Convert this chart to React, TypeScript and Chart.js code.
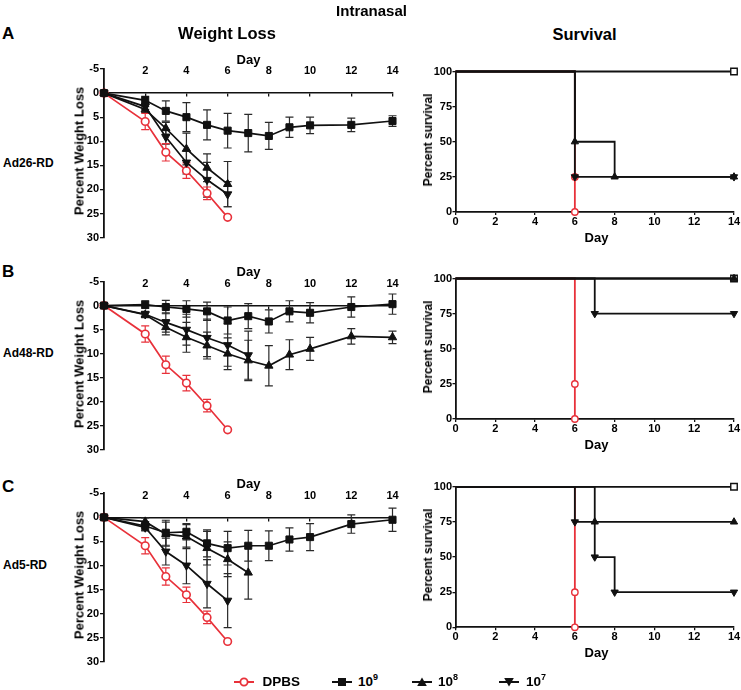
import React, { useEffect, useRef } from 'react';
import { Chart, registerables } from 'chart.js';
Chart.register(...registerables);

const FONT = "'Liberation Sans', Arial, Helvetica, sans-serif";
const RED = '#E8313A';
const BLACK = '#111111';

// ---------- Weight loss data (percent weight loss, days post infection) ----------
const dpbsDays = [0, 2, 3, 4, 5, 6];
const dpbsLoss = [0, 5.9, 12.3, 16.1, 20.8, 25.8];
const dpbsErr = [0, 1.7, 1.8, 1.6, 1.3, 0];

const fullDays = [0, 2, 3, 4, 5, 6, 7, 8, 9, 10, 12, 14];
const days6 = [0, 2, 3, 4, 5, 6];
const days7 = [0, 2, 3, 4, 5, 6, 7];

// Ad26-RD
const ad26E9 = [0, 1.5, 3.7, 5.0, 6.6, 7.8, 8.3, 8.9, 7.1, 6.7, 6.6, 5.8];
const ad26E9Err = [0, 0.8, 2.1, 3.0, 3.1, 3.6, 3.9, 2.8, 2.1, 1.7, 1.4, 1.1];
const ad26E8 = [0, 3.4, 7.3, 11.6, 15.5, 18.9];
const ad26E8Err = [0, 0.6, 1.2, 3.3, 2.9, 4.7];
const ad26E7 = [0, 2.8, 9.1, 14.4, 18.0, 21.0];
const ad26E7Err = [0, 0.6, 1.5, 2.4, 3.6, 2.6];

// Ad48-RD
const ad48E9 = [0, -0.2, 0.3, 0.7, 1.2, 3.1, 2.2, 3.3, 1.2, 1.5, 0.3, -0.3];
const ad48E9Err = [0, 0.8, 1.4, 1.7, 1.9, 2.8, 2.6, 2.4, 2.2, 2.1, 2.1, 2.1];
const ad48E8 = [0, 1.9, 4.5, 6.6, 8.3, 10.0, 11.4, 12.5, 10.2, 9.0, 6.4, 6.6];
const ad48E8Err = [0, 0.6, 1.6, 3.1, 2.8, 3.3, 4.2, 4.2, 3.1, 2.4, 1.6, 1.3];
const ad48E7 = [0, 1.8, 3.5, 5.0, 6.7, 8.2, 10.3];
const ad48E7Err = [0, 0.6, 2.0, 3.2, 3.9, 4.4, 5.0];

// Ad5-RD
const ad5E9 = [0, 1.8, 3.2, 3.0, 5.4, 6.4, 5.9, 5.9, 4.6, 4.1, 1.4, 0.5];
const ad5E9Err = [0, 0.9, 2.6, 1.7, 2.8, 3.5, 3.2, 3.1, 2.4, 2.8, 1.9, 2.4];
const ad5E8 = [0, 0.9, 3.5, 4.0, 6.4, 8.7, 11.5];
const ad5E8Err = [0, 0.8, 2.5, 2.5, 3.5, 3.6, 5.5];
const ad5E7 = [0, 2.1, 7.1, 10.0, 13.8, 17.3];
const ad5E7Err = [0, 0.7, 2.8, 3.8, 5.0, 5.6];

// ---------- Survival data (Kaplan-Meier steps) ----------
const survDpbsDays = [0, 6, 6];
const survDpbs = [100, 25, 0];

const ad26SurvE9Days = [0, 14];
const ad26SurvE9 = [100, 100];
const ad26SurvE8Days = [0, 6, 8, 14];
const ad26SurvE8 = [100, 50, 25, 25];
const ad26SurvE7Days = [0, 6, 14];
const ad26SurvE7 = [100, 25, 25];

const ad48SurvE9Days = [0, 14];
const ad48SurvE9 = [100, 100];
const ad48SurvE8Days = [0, 14];
const ad48SurvE8 = [100, 100];
const ad48SurvE7Days = [0, 7, 14];
const ad48SurvE7 = [100, 75, 75];

const ad5SurvE9Days = [0, 14];
const ad5SurvE9 = [100, 100];
const ad5SurvE8Days = [0, 7, 14];
const ad5SurvE8 = [100, 75, 75];
const ad5SurvE7Days = [0, 6, 7, 8, 14];
const ad5SurvE7 = [100, 75, 50, 25, 25];

// ---------- tick settings ----------
const weightTicksMin = -5;
const weightTicksMax = 30;
const weightTickStep = 5;
const dayMin = 0;
const dayMax = 14;
const dayStep = 2;
const survMin = 0;
const survMax = 100;
const survStep = 25;

const pts = (days: number[], vals: number[]) => days.map((d, i) => ({ x: d, y: vals[i] }));

const errorBarPlugin = {
  id: 'errorBars',
  beforeDatasetsDraw(chart: any) {
    const ctx = chart.ctx;
    const xs = chart.scales.x;
    const ys = chart.scales.y;
    chart.data.datasets.forEach((ds: any) => {
      if (!ds.errors) return;
      ctx.save();
      ctx.strokeStyle = ds.errorColor;
      ctx.lineWidth = 1.2;
      ds.data.forEach((p: any, j: number) => {
        const e = ds.errors[j];
        if (!e) return;
        const px = xs.getPixelForValue(p.x);
        const y1 = ys.getPixelForValue(p.y - e);
        const y2 = ys.getPixelForValue(p.y + e);
        ctx.beginPath();
        ctx.moveTo(px, y1);
        ctx.lineTo(px, y2);
        ctx.moveTo(px - 4, y1);
        ctx.lineTo(px + 4, y1);
        ctx.moveTo(px - 4, y2);
        ctx.lineTo(px + 4, y2);
        ctx.stroke();
      });
      ctx.restore();
    });
  },
};

type Kind = 'dpbs' | 'e9' | 'e8' | 'e7';

function weightSeries(kind: Kind, days: number[], vals: number[], errs: number[]) {
  const color = kind === 'dpbs' ? RED : BLACK;
  return {
    data: pts(days, vals),
    errors: errs,
    errorColor: kind === 'dpbs' ? RED : '#2a2a2a',
    xAxisID: 'x',
    yAxisID: 'y',
    borderColor: color,
    borderWidth: 1.7,
    pointStyle: kind === 'dpbs' ? 'circle' : kind === 'e9' ? 'rect' : 'triangle',
    rotation: kind === 'e7' ? 180 : 0,
    pointRadius: kind === 'dpbs' ? 3.8 : kind === 'e9' ? 5 : 4.8,
    pointBorderWidth: kind === 'dpbs' ? 1.6 : 1,
    pointBackgroundColor: kind === 'dpbs' ? '#ffffff' : BLACK,
    pointBorderColor: color,
    tension: 0,
    clip: false,
  };
}

function survSeries(kind: Kind, days: number[], vals: number[]) {
  const color = kind === 'dpbs' ? RED : BLACK;
  return {
    data: pts(days, vals),
    xAxisID: 'x',
    yAxisID: 'y',
    borderColor: color,
    borderWidth: 1.8,
    stepped: 'before',
    pointStyle: kind === 'dpbs' ? 'circle' : kind === 'e9' ? 'rect' : 'triangle',
    rotation: kind === 'e7' ? 180 : 0,
    pointRadius: days.map((_, i) => (i === 0 ? 0 : kind === 'dpbs' ? 3.2 : kind === 'e9' ? 4.6 : 4.2)),
    pointBorderWidth: kind === 'dpbs' || kind === 'e9' ? 1.4 : 1,
    pointBackgroundColor: kind === 'dpbs' || kind === 'e9' ? '#ffffff' : BLACK,
    pointBorderColor: color,
    clip: false,
  };
}

const tickFont = { family: FONT, size: 11, weight: 'bold' as const };

type Geo = { left: number; top: number; width: number; height: number; yW: number; xH: number; padR: number; padB: number; padT: number };

function weightGeo(areaTop: number, areaBottom: number): Geo {
  const left = 60;
  const areaLeft = 104;
  const areaRight = 392.5;
  const top = Math.floor(areaTop - 20);
  const width = Math.ceil(areaRight + 10 - left);
  const height = Math.ceil(areaBottom + 10 - top);
  return { left, top, width, height, yW: areaLeft - left, xH: 0, padR: left + width - areaRight, padB: top + height - areaBottom, padT: areaTop - top };
}

function survGeo(areaTop: number, areaBottom: number): Geo {
  const left = 415;
  const areaLeft = 455.5;
  const areaRight = 734;
  const top = Math.floor(areaTop - 10);
  const width = 741 - left;
  const height = Math.ceil(areaBottom + 20 - top);
  return { left, top, width, height, yW: areaLeft - left, xH: top + height - areaBottom, padR: left + width - areaRight, padB: 0, padT: areaTop - top };
}

function weightConfig(geo: Geo, datasets: any[]) {
  return {
    type: 'line',
    data: { datasets },
    options: {
      animation: false,
      responsive: false,
      layout: { padding: { left: 0, top: geo.padT, right: geo.padR, bottom: geo.padB } },
      plugins: { legend: { display: false }, tooltip: { enabled: false } },
      scales: {
        x: {
          type: 'linear',
          position: { y: weightTicksMin },
          min: dayMin,
          max: dayMax,
          ticks: {
            stepSize: dayStep,
            padding: 0,
            color: '#000',
            font: { family: FONT, size: 11, weight: 'bold', lineHeight: 0.42 },
            maxRotation: 0,
            callback: (v: number) => (v === 0 ? '' : String(v)),
          },
          grid: { display: false, drawTicks: false, tickLength: 0 },
          border: { display: false },
        },
        x2: {
          type: 'linear',
          axis: 'x',
          position: { y: 0 },
          min: dayMin,
          max: dayMax,
          ticks: { stepSize: dayStep, display: false },
          grid: { drawOnChartArea: false, drawTicks: true, tickLength: 3, color: BLACK, lineWidth: 1.3 },
          border: { display: true, color: BLACK, width: 1.6 },
        },
        y: {
          type: 'linear',
          position: 'left',
          reverse: true,
          min: weightTicksMin,
          max: weightTicksMax,
          ticks: { stepSize: weightTickStep, padding: 1, color: '#000', font: tickFont },
          grid: { drawOnChartArea: false, drawTicks: true, tickLength: 4, color: BLACK, lineWidth: 1.3 },
          border: { display: true, color: BLACK, width: 1.8 },
          afterFit: (s: any) => { s.width = geo.yW; },
        },
      },
    },
    plugins: [errorBarPlugin],
  };
}

function survConfig(geo: Geo, datasets: any[]) {
  return {
    type: 'line',
    data: { datasets },
    options: {
      animation: false,
      responsive: false,
      layout: { padding: { left: 0, top: geo.padT, right: geo.padR, bottom: 0 } },
      plugins: { legend: { display: false }, tooltip: { enabled: false } },
      scales: {
        x: {
          type: 'linear',
          position: 'bottom',
          min: dayMin,
          max: dayMax,
          ticks: { stepSize: dayStep, padding: 0, color: '#000', font: tickFont, maxRotation: 0 },
          grid: { drawOnChartArea: false, drawTicks: true, tickLength: 3, color: BLACK, lineWidth: 1.3 },
          border: { display: true, color: BLACK, width: 1.8 },
          afterFit: (s: any) => { s.height = geo.xH; },
        },
        y: {
          type: 'linear',
          position: 'left',
          min: survMin,
          max: survMax,
          ticks: { stepSize: survStep, padding: 0.5, color: '#000', font: tickFont },
          grid: { drawOnChartArea: false, drawTicks: true, tickLength: 3, color: BLACK, lineWidth: 1.3 },
          border: { display: true, color: BLACK, width: 1.8 },
          afterFit: (s: any) => { s.width = geo.yW; },
        },
      },
    },
  };
}

function ChartCanvas({ geo, makeConfig }: { geo: Geo; makeConfig: () => any }) {
  const ref = useRef<HTMLCanvasElement>(null);
  useEffect(() => {
    const chart = new Chart(ref.current as HTMLCanvasElement, makeConfig());
    return () => chart.destroy();
  }, []);
  return (
    <canvas
      ref={ref}
      width={geo.width}
      height={geo.height}
      style={{ position: 'absolute', left: geo.left, top: geo.top, width: geo.width, height: geo.height }}
    />
  );
}

function Txt({ x, y, size, children, anchor = 'center', rotate = false, weight = 'bold' }: any) {
  let transform = anchor === 'left' ? 'translate(0,-50%)' : 'translate(-50%,-50%)';
  if (rotate) transform += ' rotate(-90deg)';
  return (
    <div
      style={{
        position: 'absolute',
        left: x,
        top: y,
        transform,
        fontFamily: FONT,
        fontWeight: weight,
        fontSize: size,
        lineHeight: 1,
        whiteSpace: 'nowrap',
        color: '#000',
      }}
    >
      {children}
    </div>
  );
}

const panels = [
  {
    letter: 'A', letterY: 32.5, name: 'Ad26-RD', nameY: 163.3,
    wTop: 69, wBottom: 237.6, sTop: 71.5, sBottom: 212,
    weight: [
      weightSeries('e9', fullDays, ad26E9, ad26E9Err),
      weightSeries('e8', days6, ad26E8, ad26E8Err),
      weightSeries('e7', days6, ad26E7, ad26E7Err),
      weightSeries('dpbs', dpbsDays, dpbsLoss, dpbsErr),
    ],
    surv: [
      survSeries('e8', ad26SurvE8Days, ad26SurvE8),
      survSeries('e7', ad26SurvE7Days, ad26SurvE7),
      survSeries('e9', ad26SurvE9Days, ad26SurvE9),
      survSeries('dpbs', survDpbsDays, survDpbs),
    ],
  },
  {
    letter: 'B', letterY: 271, name: 'Ad48-RD', nameY: 353,
    wTop: 281.5, wBottom: 450, sTop: 278.5, sBottom: 419,
    weight: [
      weightSeries('e9', fullDays, ad48E9, ad48E9Err),
      weightSeries('e8', fullDays, ad48E8, ad48E8Err),
      weightSeries('e7', days7, ad48E7, ad48E7Err),
      weightSeries('dpbs', dpbsDays, dpbsLoss, dpbsErr),
    ],
    surv: [
      survSeries('e8', ad48SurvE8Days, ad48SurvE8),
      survSeries('e7', ad48SurvE7Days, ad48SurvE7),
      survSeries('e9', ad48SurvE9Days, ad48SurvE9),
      survSeries('dpbs', survDpbsDays, survDpbs),
    ],
  },
  {
    letter: 'C', letterY: 486, name: 'Ad5-RD', nameY: 565,
    wTop: 493.3, wBottom: 661.7, sTop: 486.8, sBottom: 627.3,
    weight: [
      weightSeries('e9', fullDays, ad5E9, ad5E9Err),
      weightSeries('e8', days7, ad5E8, ad5E8Err),
      weightSeries('e7', days6, ad5E7, ad5E7Err),
      weightSeries('dpbs', dpbsDays, dpbsLoss, dpbsErr),
    ],
    surv: [
      survSeries('e8', ad5SurvE8Days, ad5SurvE8),
      survSeries('e7', ad5SurvE7Days, ad5SurvE7),
      survSeries('e9', ad5SurvE9Days, ad5SurvE9),
      survSeries('dpbs', survDpbsDays, survDpbs),
    ],
  },
];

function LegendMarker({ kind }: { kind: Kind }) {
  const c = kind === 'dpbs' ? RED : BLACK;
  return (
    <svg width={20} height={12} style={{ display: 'block' }}>
      <line x1={0} y1={6} x2={20} y2={6} stroke={c} strokeWidth={2} />
      {kind === 'dpbs' && <circle cx={10} cy={6} r={3.6} fill="#fff" stroke={c} strokeWidth={1.8} />}
      {kind === 'e9' && <rect x={6} y={2} width={8} height={8} fill={c} />}
      {kind === 'e8' && <polygon points="10,1.5 14.8,10 5.2,10" fill={c} />}
      {kind === 'e7' && <polygon points="10,10.5 14.8,2 5.2,2" fill={c} />}
    </svg>
  );
}

const legendItems: { kind: Kind; base: string; exp: string; mx: number; tx: number }[] = [
  { kind: 'dpbs', base: 'DPBS', exp: '', mx: 234, tx: 262.5 },
  { kind: 'e9', base: '10', exp: '9', mx: 331.5, tx: 358 },
  { kind: 'e8', base: '10', exp: '8', mx: 411.5, tx: 438 },
  { kind: 'e7', base: '10', exp: '7', mx: 499, tx: 526 },
];

export default function App() {
  const legendY = 682;
  return (
    <div style={{ position: 'absolute', left: 0, top: 0, width: 741, height: 690, background: '#fff', overflow: 'hidden' }}>
      {panels.map((p) => {
        const wg = weightGeo(p.wTop, p.wBottom);
        const sg = survGeo(p.sTop, p.sBottom);
        return (
          <React.Fragment key={p.letter}>
            <ChartCanvas geo={wg} makeConfig={() => weightConfig(wg, p.weight)} />
            <ChartCanvas geo={sg} makeConfig={() => survConfig(sg, p.surv)} />
            <Txt x={2} y={p.letterY} size={17} anchor="left">{p.letter}</Txt>
            <Txt x={3} y={p.nameY} size={12} anchor="left">{p.name}</Txt>
            <Txt x={248.5} y={p.wTop - 10.5} size={13}>Day</Txt>
            <Txt x={79} y={p.wTop + 82} size={13} rotate>Percent Weight Loss</Txt>
            <Txt x={427.5} y={p.sTop + 68.5} size={12} rotate>Percent survival</Txt>
            <Txt x={596.5} y={p.sBottom + 25} size={13}>Day</Txt>
          </React.Fragment>
        );
      })}
      <Txt x={371.5} y={10} size={15}>Intranasal</Txt>
      <Txt x={227} y={32.5} size={16.5}>Weight Loss</Txt>
      <Txt x={584.5} y={34} size={16.5}>Survival</Txt>
      {legendItems.map((it) => (
        <React.Fragment key={it.kind}>
          <div style={{ position: 'absolute', left: it.mx, top: legendY - 6 }}>
            <LegendMarker kind={it.kind} />
          </div>
          <Txt x={it.tx} y={legendY} size={13.5} anchor="left">
            {it.base}
            {it.exp && <span style={{ fontSize: 9, position: 'relative', top: -6 }}>{it.exp}</span>}
          </Txt>
        </React.Fragment>
      ))}
    </div>
  );
}
